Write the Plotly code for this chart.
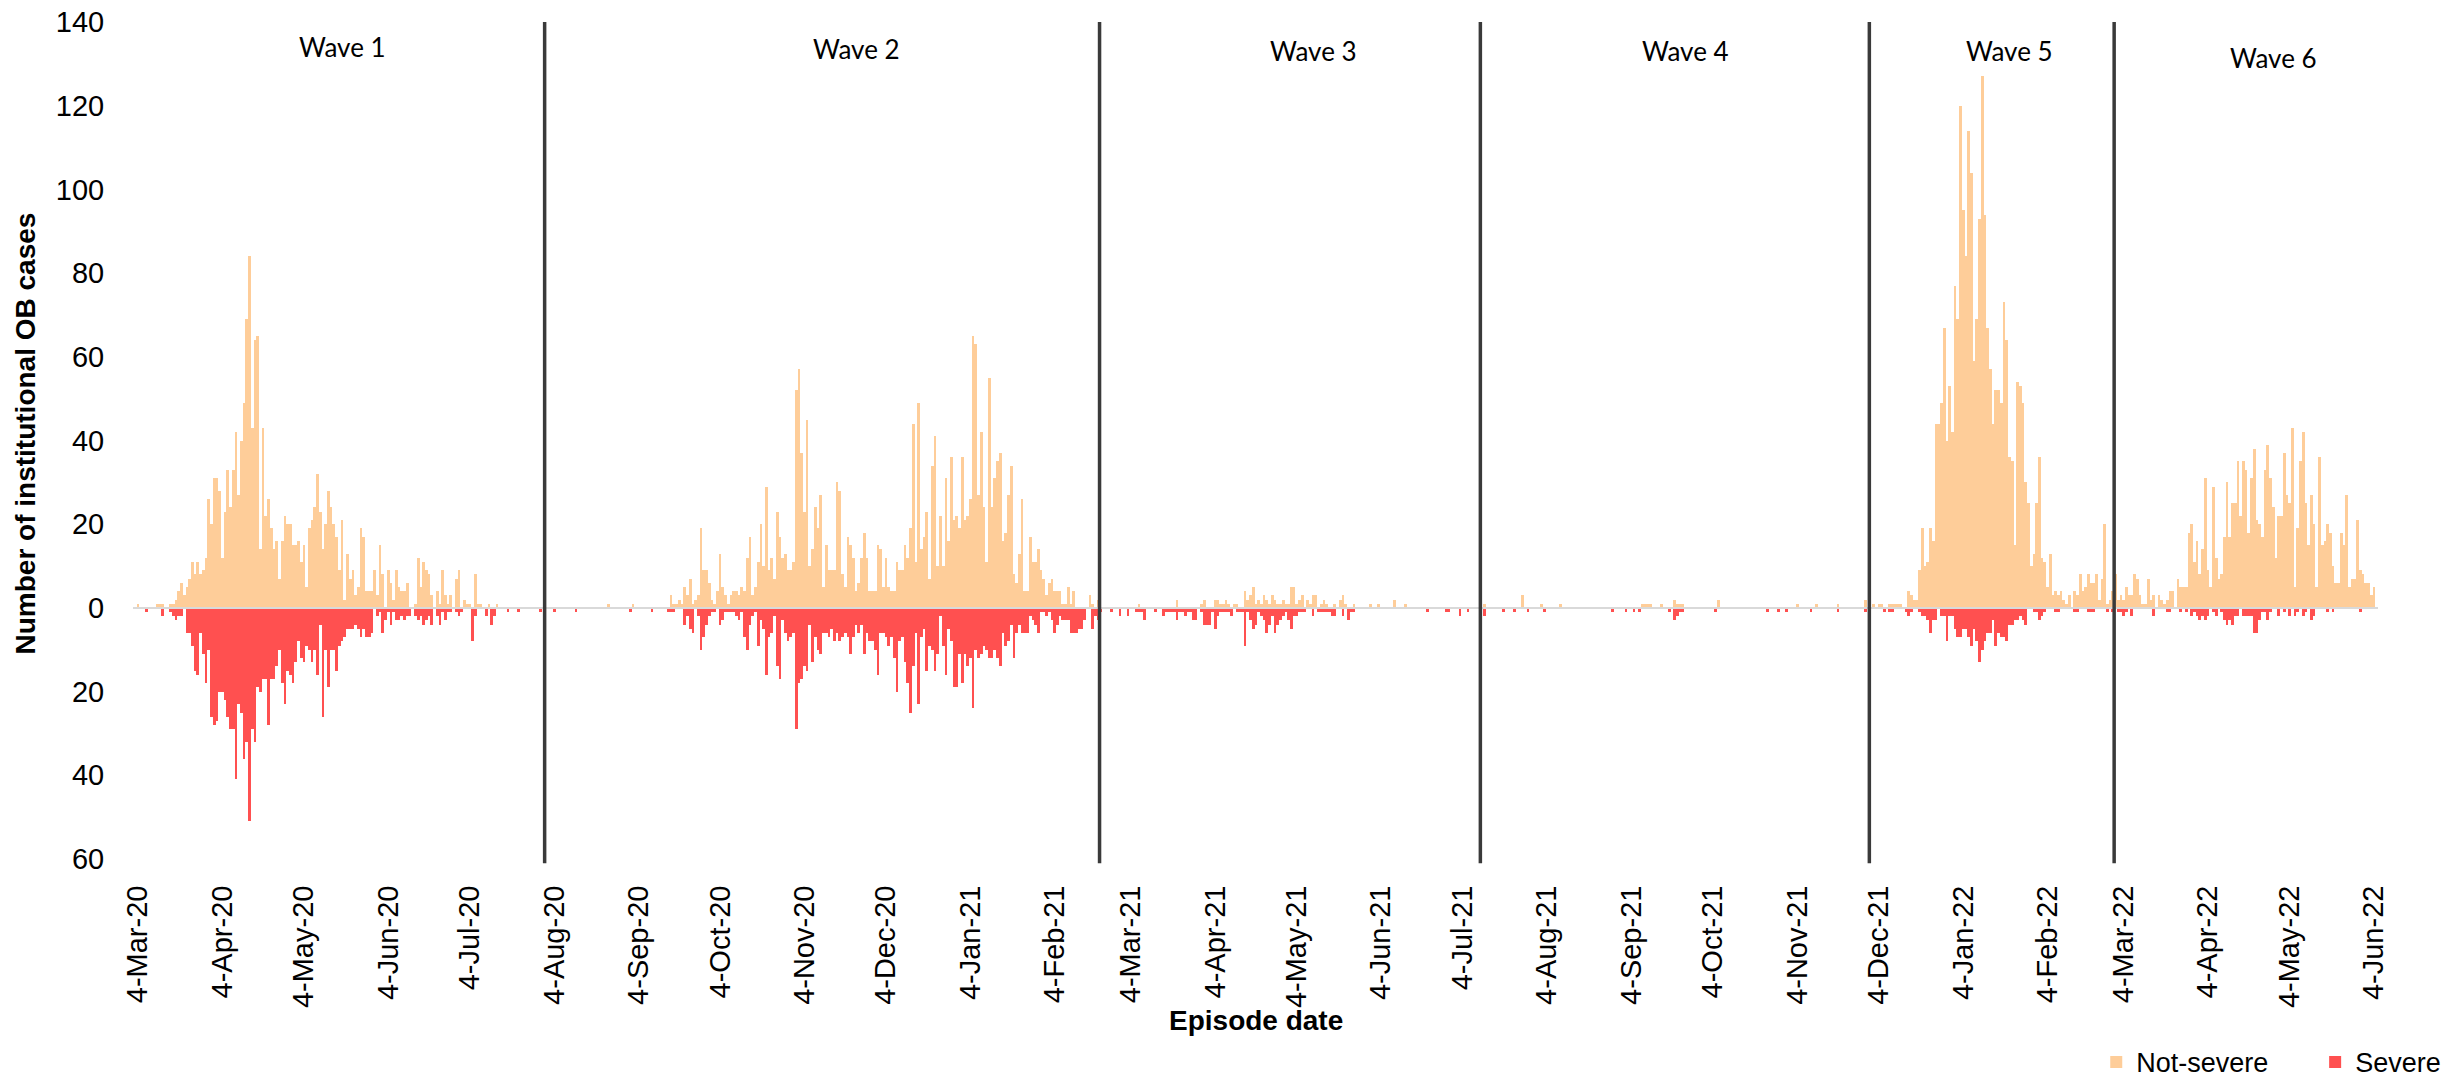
import pandas as pd
import plotly.graph_objects as go

# ---------------- data (daily counts) ----------------
start_date = "2020-03-04"
end_date = "2022-06-04"

# first day of each wave
wave_names = ["Wave 1", "Wave 2", "Wave 3", "Wave 4", "Wave 5", "Wave 6"]
wave_starts = ["2020-03-04", "2020-08-01", "2021-02-21", "2021-07-11", "2021-12-01", "2022-03-01"]
wave_label_dates = ["2020-05-18", "2020-11-23", "2021-05-10", "2021-09-24", "2022-01-21", "2022-04-28"]
wave_label_y = [134, 133.5, 133, 133, 133, 131.5]

wave1_not_severe = [
    1, 0, 0, 0, 0, 0, 0, 1, 1, 1,
    0, 0, 1, 1, 2, 4, 6, 3, 5, 7,
    11, 8, 11, 8, 9, 12, 26, 20, 31, 31,
    28, 12, 23, 33, 24, 33, 42, 27, 40, 49,
    69, 84, 43, 64, 65, 14, 43, 22, 26, 19,
    14, 16, 7, 16, 22, 20, 20, 15, 15, 16,
    11, 15, 5, 19, 21, 24, 32, 23, 14, 20,
    28, 24, 20, 17, 9, 21, 2, 13, 7, 9,
    3, 5, 19, 17, 4, 4, 4, 9, 3, 15,
    8, 0, 9, 6, 2, 9, 5, 4, 4, 6,
    0, 0, 1, 12, 5, 11, 9, 8, 3, 0,
    4, 1, 9, 3, 1, 3, 0, 7, 9, 0,
    2, 1, 1, 0, 8, 1, 1, 0, 0, 1,
    0, 0, 1, 0, 0, 0, 0, 0, 0, 0,
    0, 0, 0, 0, 0, 0, 0, 0, 0, 0,
]
wave1_severe = [
    0, 0, 0, 1, 0, 0, 0, 0, 0, 2,
    0, 0, 1, 2, 3, 2, 2, 0, 6, 6,
    9, 15, 16, 6, 11, 18, 10, 26, 28, 27,
    20, 20, 22, 26, 29, 29, 41, 23, 25, 36,
    32, 51, 29, 32, 19, 20, 17, 17, 28, 17,
    17, 14, 10, 18, 23, 15, 16, 18, 13, 8,
    12, 13, 9, 10, 13, 10, 16, 4, 26, 10,
    19, 10, 10, 15, 9, 8, 7, 5, 5, 5,
    4, 5, 7, 5, 7, 7, 6, 0, 2, 1,
    6, 3, 1, 4, 1, 3, 3, 2, 3, 2,
    2, 0, 2, 3, 2, 4, 3, 2, 4, 0,
    2, 4, 1, 3, 1, 1, 0, 1, 2, 1,
    0, 0, 0, 8, 2, 0, 0, 0, 2, 0,
    4, 2, 0, 0, 0, 0, 1, 0, 0, 0,
    1, 0, 0, 0, 0, 0, 0, 0, 1, 0,
]

wave2_not_severe = [
    0, 0, 0, 0, 0, 0, 0, 0, 0, 0,
    0, 0, 0, 0, 0, 0, 0, 0, 0, 0,
    0, 0, 0, 1, 0, 0, 0, 0, 0, 0,
    0, 0, 1, 0, 0, 0, 0, 0, 0, 0,
    0, 0, 0, 0, 0, 0, 3, 1, 1, 2, 1,
    5, 3, 7, 1, 2, 3, 19, 9, 9, 6,
    2, 1, 4, 13, 5, 3, 1, 3, 4, 4,
    3, 5, 4, 12, 17, 3, 5, 11, 20, 10,
    29, 9, 12, 7, 23, 17, 12, 13, 9, 9,
    11, 52, 57, 37, 23, 45, 10, 14, 24, 19,
    27, 5, 15, 9, 9, 9, 30, 28, 8, 5,
    17, 15, 12, 4, 6, 12, 18, 12, 4, 4,
    4, 15, 14, 5, 12, 5, 4, 4, 11, 9,
    9,
    15, 12, 19, 44, 11, 49, 14, 17, 23, 7,
    34, 41, 10, 22, 10, 31, 16, 36, 21, 22,
    19, 36, 21, 22, 26, 65, 63, 27, 42, 24,
    11, 55, 24, 31, 35, 37, 16, 18, 27, 34,
    8, 6, 13, 26, 4, 4, 17, 11, 11, 14,
    9, 7, 3, 6, 7, 4, 4, 4, 1, 1,
    5, 1, 4, 0, 0, 0, 0, 0, 3, 1,
    0, 2,
]
wave2_severe = [
    0, 0, 0, 1, 0, 0, 0, 0, 0, 0,
    0, 1, 0, 0, 0, 0, 0, 0, 0, 0,
    0, 0, 0, 0, 0, 0, 0, 0, 0, 0,
    0, 1, 0, 0, 0, 0, 0, 0, 0, 1,
    0, 0, 0, 0, 0, 1, 1, 1, 0, 0, 0,
    4, 2, 5, 6, 0, 2, 10, 7, 4, 2,
    1, 1, 0, 4, 3, 1, 1, 1, 1, 2,
    3, 1, 7, 10, 4, 2, 1, 9, 3, 5,
    16, 7, 6, 2, 14, 17, 3, 6, 8, 7,
    6, 29, 18, 17, 14, 15, 4, 13, 7, 10,
    11, 6, 6, 7, 5, 8, 6, 8, 7, 6,
    7, 11, 7, 4, 6, 4, 11, 6, 8, 8,
    10, 16, 6, 6, 7, 9, 7, 12, 20, 8,
    7,
    13, 18, 25, 14, 6, 23, 7, 5, 15, 9,
    10, 15, 11, 2, 9, 16, 5, 8, 19, 19,
    11, 18, 11, 14, 12, 24, 10, 12, 11, 9,
    10, 12, 12, 10, 12, 14, 6, 9, 8, 4,
    12, 6, 4, 6, 6, 6, 2, 3, 4, 6,
    1, 1, 2, 1, 3, 6, 4, 2, 3, 3,
    3, 6, 6, 6, 5, 5, 3, 0, 0, 5,
    2, 3,
]

wave3_not_severe = [
    0, 0, 0, 0, 0, 0, 0, 0, 0, 0,
    0, 0, 0, 0, 1, 0, 0, 0, 0, 0,
    0, 0, 0, 0, 0, 0, 0, 0, 2, 0,
    0, 0, 0, 0, 0, 0, 0, 1, 2, 0,
    0, 0, 2, 2, 1, 1, 2, 1, 0, 1,
    1, 0, 0, 4, 2, 3, 5, 1, 2, 1,
    3, 2, 1, 3, 2, 1, 1, 2, 1, 1,
    5, 5, 1, 2, 3, 0, 2, 1, 3, 3,
    0, 1, 2, 1, 0, 0, 1, 0, 2, 3,
    1, 0, 0, 1,
    0, 0, 0, 0, 0, 1, 0, 0, 1, 0,
    0, 0, 0, 0, 2, 0, 0, 0, 1, 0,
    0, 0, 0, 0, 0, 0, 0, 0, 0, 0,
    0, 0, 0, 0, 0, 0, 0, 0, 0, 0,
    0, 0, 0, 0, 0, 0,
]
wave3_severe = [
    1, 0, 0, 0, 1, 0, 0, 2, 0, 0,
    2, 0, 0, 1, 1, 1, 3, 0, 0, 0,
    1, 0, 0, 2, 1, 1, 1, 1, 3, 1,
    1, 2, 1, 1, 3, 3, 0, 1, 4, 4,
    4, 1, 5, 2, 1, 1, 1, 1, 2, 0,
    1, 1, 1, 9, 1, 3, 5, 4, 1, 2,
    3, 6, 4, 2, 6, 4, 3, 2, 1, 3,
    5, 2, 2, 1, 1, 1, 0, 0, 2, 0,
    1, 1, 1, 1, 1, 2, 2, 0, 0, 2,
    0, 3, 1, 1,
    0, 0, 0, 0, 0, 0, 0, 0, 0, 0,
    0, 0, 0, 0, 0, 0, 0, 0, 0, 0,
    0, 0, 0, 0, 0, 0, 1, 0, 0, 0,
    0, 0, 0, 1, 1, 0, 0, 0, 2, 0,
    0, 1, 0, 0, 0, 0,
]

wave4_not_severe = [
    0, 1, 0, 0, 0, 0, 0, 0, 0, 0,
    0, 0, 0, 0, 0, 3, 0, 0, 0, 0,
    0, 0, 1, 0, 0, 0, 0, 0, 0, 1,
    0, 0, 0, 0, 0, 0, 0, 0, 0, 0,
    0, 0, 0, 0, 0, 0, 0, 0, 0, 0,
    0, 0, 0, 0, 0, 0, 0, 0, 0, 1,
    1, 1, 1, 0, 0, 0, 1, 0, 0, 0,
    0, 2, 1, 1, 1, 0, 0, 0, 0, 0,
    0, 0, 0, 0, 0, 0, 0, 2, 0, 0,
    0, 0, 0, 0, 0, 0, 0, 0, 0, 0,
    0, 0, 0, 0, 0, 0, 0, 0, 0, 0,
    0, 0, 0, 0, 0, 0, 1, 0, 0, 0,
    0, 0, 0, 1, 0, 0, 0, 0, 0, 0,
    0, 1, 0, 0, 0, 0, 0, 0, 0, 0,
    0, 2, 0,
]
wave4_severe = [
    0, 2, 0, 0, 0, 0, 0, 0, 1, 0,
    0, 0, 1, 0, 0, 0, 0, 1, 0, 0,
    0, 0, 0, 1, 0, 0, 0, 0, 0, 0,
    0, 0, 0, 0, 0, 0, 0, 0, 0, 0,
    0, 0, 0, 0, 0, 0, 0, 0, 1, 0,
    0, 0, 0, 1, 0, 0, 1, 0, 1, 0,
    0, 0, 0, 0, 0, 0, 0, 0, 0, 1,
    0, 3, 2, 1, 1, 0, 0, 0, 0, 0,
    0, 0, 0, 0, 0, 0, 1, 0, 0, 0,
    0, 0, 0, 0, 0, 0, 0, 0, 0, 0,
    0, 0, 0, 0, 0, 1, 0, 0, 0, 1,
    0, 0, 1, 0, 0, 0, 0, 0, 0, 0,
    0, 1, 0, 0, 0, 0, 0, 0, 0, 0,
    0, 1, 0, 0, 0, 0, 0, 0, 0, 0,
    0, 1, 0,
]

wave5_not_severe = [
    0, 1, 0, 1, 1, 0, 0, 1, 1, 1,
    1, 1, 0, 0, 4, 3, 2, 2, 9, 19,
    10, 11, 19, 16, 44, 44, 49, 67, 40, 53,
    42, 77, 69, 120, 95, 84, 114, 104, 59, 69,
    93, 127, 94, 67, 57, 44, 52, 52, 49, 73,
    64, 36, 35, 15, 54, 53, 49, 30, 25, 10,
    13, 25, 36, 12, 11, 5, 13, 3, 4, 3,
    4, 2, 1, 3, 0, 4, 3, 8, 4, 5,
    8, 6, 6, 8, 2, 7, 20, 1, 2, 4,
]
wave5_severe = [
    0, 0, 0, 0, 0, 1, 0, 1, 1, 0,
    0, 0, 0, 1, 2, 1, 0, 0, 1, 2,
    2, 3, 6, 3, 3, 0, 2, 2, 8, 2,
    2, 5, 7, 7, 5, 5, 7, 9, 5, 8,
    13, 10, 8, 6, 6, 3, 9, 6, 7, 7,
    8, 4, 4, 3, 3, 2, 3, 4, 0, 0,
    1, 1, 3, 2, 1, 0, 0, 0, 1, 1,
    0, 0, 0, 0, 0, 1, 1, 0, 0, 0,
    1, 1, 1, 0, 0, 0, 0, 1, 0, 1,
]

wave6_not_severe = [
    8, 2, 3, 2, 5, 3, 3, 8, 7,
    3, 1, 1, 7, 2, 3, 0, 3, 2, 1,
    2, 4, 4, 0, 7, 5, 5, 5, 18, 20,
    11, 16, 8, 14, 31, 9, 5, 29, 12, 7,
    8, 17, 30, 17, 25, 25, 35, 22, 35, 33,
    18, 31, 38, 21, 20, 17, 33, 39, 31, 24,
    12, 22, 22, 37, 27, 25, 43, 5, 19, 35,
    42, 25, 15, 27, 20, 5, 36, 15, 16, 20,
    18, 10, 6, 6, 18, 15, 27, 5, 7,
    7, 21, 9, 8, 6, 6, 3, 5,
]
wave6_severe = [
    0, 1, 1, 2, 1, 0, 2, 0, 0,
    0, 0, 0, 0, 0, 2, 0, 0, 0, 0,
    1, 1, 0, 0, 0, 1, 0, 1, 0, 2,
    1, 2, 3, 2, 3, 2, 0, 1, 2, 0,
    1, 3, 4, 3, 4, 2, 2, 0, 2, 2,
    2, 2, 6, 6, 3, 1, 1, 3, 1, 0,
    0, 2, 0, 1, 0, 2, 0, 2, 1, 0,
    2, 1, 0, 3, 2, 0, 0, 0, 0, 1,
    0, 1, 0, 0, 0, 0, 0, 0, 0,
    0, 0, 1, 0, 0, 0, 0, 0,
]

# ---------------- assemble ----------------
dates = pd.date_range(start_date, end_date, freq="D")
not_severe = (wave1_not_severe + wave2_not_severe + wave3_not_severe
              + wave4_not_severe + wave5_not_severe + wave6_not_severe)
severe = (wave1_severe + wave2_severe + wave3_severe
          + wave4_severe + wave5_severe + wave6_severe)
n = len(dates)
not_severe = (not_severe + [0] * n)[:n]
severe = (severe + [0] * n)[:n]
severe_neg = [-v for v in severe]

NS_COLOR = "#FECD99"
SEV_COLOR = "#FF5050"
TEXT_FONT = "Liberation Sans, Arial, sans-serif"
TICK_FONT = dict(family=TEXT_FONT, size=29, color="#000000")
LEGEND_FONT = dict(family=TEXT_FONT, size=27, color="#000000")

fig = go.Figure()
fig.add_trace(go.Bar(x=dates, y=not_severe, name="Not-severe", legend="legend",
                     marker=dict(color=NS_COLOR, line=dict(width=0))))
fig.add_trace(go.Bar(x=dates, y=severe_neg, name="Severe", legend="legend2",
                     marker=dict(color=SEV_COLOR, line=dict(width=0))))

shapes = []
# zero line
shapes.append(dict(type="line", xref="paper", yref="y", x0=0, x1=1, y0=0, y1=0,
                   line=dict(color="#D9D9D9", width=2), layer="above"))
# wave separators (boundary between last day of a wave and first day of the next)
for ws in wave_starts[1:]:
    xb = pd.Timestamp(ws) - pd.Timedelta(hours=12)
    shapes.append(dict(type="line", xref="x", yref="paper", x0=xb, x1=xb, y0=-0.005, y1=1.0,
                       line=dict(color="#3A3A3A", width=3.5), layer="above"))

annotations = []
for name, d, yv in zip(wave_names, wave_label_dates, wave_label_y):
    annotations.append(dict(x=d, y=yv, xref="x", yref="y", text=name, showarrow=False,
                            font=dict(family="Lato, Carlito, Calibri, sans-serif", size=26, color="#000000"),
                            xanchor="center", yanchor="middle"))
annotations.append(dict(x=0.5, y=-0.193, xref="paper", yref="paper", text="<b>Episode date</b>",
                        showarrow=False, xanchor="center", yanchor="middle",
                        font=dict(family=TEXT_FONT, size=28, color="#000000")))
annotations.append(dict(x=-0.0478, y=0.508, xref="paper", yref="paper",
                        text="<b>Number of institutional OB cases</b>", textangle=-90,
                        showarrow=False, xanchor="center", yanchor="middle",
                        font=dict(family=TEXT_FONT, size=28, color="#000000")))

yvals = list(range(-60, 141, 20))

fig.update_layout(
    width=2458, height=1085,
    margin=dict(l=133, r=80, t=22, b=226, autoexpand=False),
    paper_bgcolor="white", plot_bgcolor="white",
    barmode="relative", bargap=0.0,
    showlegend=True,
    legend=dict(orientation="h", x=0.8745, y=-0.243, xanchor="left", yanchor="middle",
                font=LEGEND_FONT, bgcolor="rgba(0,0,0,0)"),
    legend2=dict(orientation="h", x=0.972, y=-0.243, xanchor="left", yanchor="middle",
                 font=LEGEND_FONT, bgcolor="rgba(0,0,0,0)"),
    shapes=shapes,
    annotations=annotations,
    xaxis=dict(type="date",
               range=[pd.Timestamp(start_date) - pd.Timedelta(hours=44),
                      pd.Timestamp(end_date) + pd.Timedelta(hours=36)],
               tick0=start_date, dtick="M1", tickformat="%-d-%b-%y", tickangle=-90,
               ticks="outside", ticklen=14, tickcolor="rgba(0,0,0,0)",
               tickfont=TICK_FONT, showgrid=False, zeroline=False, showline=False),
    yaxis=dict(range=[-60, 140], tickvals=yvals, ticktext=[str(abs(v)) for v in yvals],
               ticks="outside", ticklen=22, tickcolor="rgba(0,0,0,0)",
               tickfont=TICK_FONT, showgrid=False, zeroline=False, showline=False),
)

fig.write_html("out.html")
